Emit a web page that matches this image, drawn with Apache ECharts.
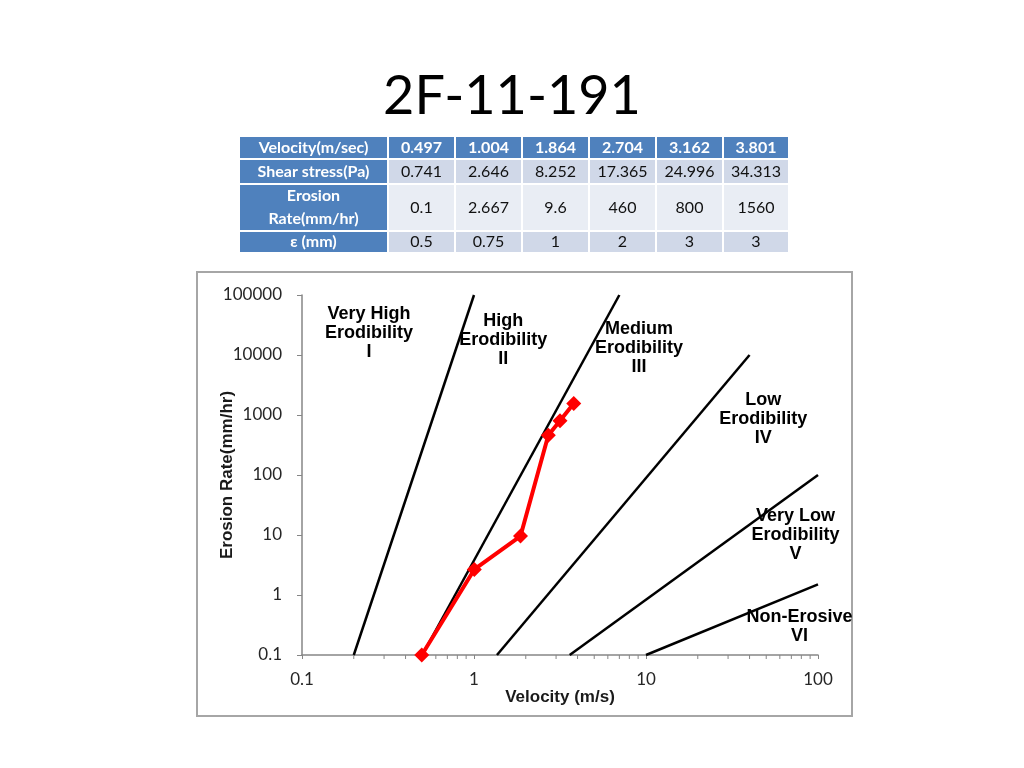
<!DOCTYPE html>
<html>
<head>
<meta charset="utf-8">
<title>2F-11-191</title>
<script src="https://cdn.jsdelivr.net/npm/echarts@6/dist/echarts.min.js"></script>
<style>
	html, body { margin: 0; padding: 0; background: #fff; }
	#main { width: 1024px; height: 768px; }
</style>
</head>
<body>
<div id="main"></div>
<script>
// table data
var rowHeads = [ 'Velocity(m/sec)', 'Shear stress(Pa)', 'Erosion\nRate(mm/hr)', 'ε (mm)' ];
var velocity = [ 0.497, 1.004, 1.864, 2.704, 3.162, 3.801 ];
var shearStress = [ 0.741, 2.646, 8.252, 17.365, 24.996, 34.313 ];
var erosionRate = [ 0.1, 2.667, 9.6, 460, 800, 1560 ];
var epsilon = [ 0.5, 0.75, 1, 2, 3, 3 ];

// erodibility zone boundaries (velocity, erosion rate)
var boundaryI = [ [ 0.2, 0.1 ], [ 1, 100000 ] ];
var boundaryII = [ [ 0.5, 0.1 ], [ 7, 100000 ] ];
var boundaryIII = [ [ 1.36, 0.1 ], [ 40, 10000 ] ];
var boundaryIV = [ [ 3.6, 0.1 ], [ 100, 100 ] ];
var boundaryV = [ [ 10, 0.1 ], [ 100, 1.5 ] ];

// zone names and where they sit (velocity, erosion rate)
var zoneNames = [ 'Very High\nErodibility\nI', 'High\nErodibility\nII',
		'Medium\nErodibility\nIII', 'Low\nErodibility\nIV',
		'Very Low\nErodibility\nV', 'Non-Erosive\nVI' ];
var zonePos = [ [ 0.245, 23000 ], [ 1.48, 17800 ], [ 9.1, 13100 ],
		[ 48, 850 ], [ 74, 10 ], [ 78, 0.3 ] ];

// axis tick labels
var xTickLabels = [ '0.1', '1', '10', '100' ];
var yTickLabels = [ '0.1', '1', '10', '100', '1000', '10000', '100000' ];
var xMinorTicks = [ 0.2, 0.3, 0.4, 0.5, 0.6, 0.7, 0.8, 0.9, 2, 3, 4, 5, 6, 7,
		8, 9, 20, 30, 40, 50, 60, 70, 80, 90 ];

var myChart = echarts.init(document.getElementById('main'));

// build the table as graphic elements
var colX = [ 240, 389, 456, 523, 590, 657, 724, 790 ];
var rowY = [ 137, 160, 185, 232, 254 ];
var tableRows = [ velocity, shearStress, erosionRate, epsilon ];
var cellFill = [ '#4F81BD', '#D0D8E8', '#E9EDF4', '#D0D8E8' ];
var tableEls = [];
for (var r = 0; r < rowHeads.length; r++) {
	for (var c = 0; c < 7; c++) {
		var x0 = colX[c], x1 = colX[c + 1] - 2;
		var y0 = rowY[r], y1 = rowY[r + 1] - 2;
		var head = (c == 0 || r == 0);
		tableEls.push({
			type : 'rect',
			shape : { x : x0, y : y0, width : x1 - x0, height : y1 - y0 },
			style : { fill : head ? '#4F81BD' : cellFill[r] }
		});
		tableEls.push({
			type : 'text',
			x : (x0 + x1) / 2,
			y : (y0 + y1) / 2,
			style : {
				text : c == 0 ? rowHeads[r] : String(tableRows[r][c - 1]),
				fill : head ? '#fff' : '#111',
				font : (head ? 'bold ' : '') + '16px Lato',
				lineHeight : 23,
				align : 'center',
				verticalAlign : 'middle'
			}
		});
	}
}

function boundary(data) {
	return {
		type : 'line',
		data : data,
		symbol : 'none',
		lineStyle : { color : '#000', width : 2.5 },
		z : 2
	};
}

var labelFont = {
	fontFamily : 'Liberation Sans',
	fontWeight : 'bold',
	fontSize : 17,
	color : '#1a1a1a'
};

var measured = [];
for (var i = 0; i < velocity.length; i++) {
	measured.push([ velocity[i], erosionRate[i] ]);
}

var option = {
	animation : false,
	backgroundColor : '#fff',
	graphic : [ {
		type : 'text',
		x : 512,
		y : 97,
		style : {
			text : '2F-11-191',
			font : '54px Lato',
			fill : '#000',
			align : 'center',
			verticalAlign : 'middle'
		}
	}, {
		type : 'group',
		children : tableEls
	}, {
		type : 'rect',
		shape : { x : 197, y : 272, width : 655, height : 444 },
		style : { fill : 'none', stroke : '#A6A6A6', lineWidth : 2 },
		z : -1
	} ],
	grid : { left : 302, right : 206, top : 295, bottom : 113 },
	xAxis : {
		type : 'log',
		logBase : 10,
		min : 0.1,
		max : 100,
		name : 'Velocity (m/s)',
		nameLocation : 'middle',
		nameGap : 34,
		nameMoveOverlap : false,
		nameTextStyle : labelFont,
		axisLine : { show : true, onZero : false, lineStyle : { color : '#868686', width : 1.5 } },
		axisTick : { show : true, length : 4, lineStyle : { color : '#868686' } },
		axisLabel : {
			margin : 16,
			fontFamily : 'Lato',
			fontSize : 17,
			color : '#262626',
			formatter : function(v) {
				return xTickLabels[Math.round(Math.log10(v)) + 1];
			}
		},
		splitLine : { show : false }
	},
	yAxis : {
		type : 'log',
		logBase : 10,
		min : 0.1,
		max : 100000,
		name : 'Erosion Rate(mm/hr)',
		nameLocation : 'middle',
		nameGap : 66,
		nameMoveOverlap : false,
		nameTextStyle : labelFont,
		axisLine : { show : true, onZero : false, lineStyle : { color : '#868686', width : 1.5 } },
		axisTick : { show : true, length : 5, lineStyle : { color : '#868686' } },
		axisLabel : {
			margin : 20,
			fontFamily : 'Lato',
			fontSize : 17,
			color : '#262626',
			formatter : function(v) {
				return yTickLabels[Math.round(Math.log10(v)) + 1];
			}
		},
		splitLine : { show : false }
	},
	series : [
			boundary(boundaryI),
			boundary(boundaryII),
			boundary(boundaryIII),
			boundary(boundaryIV),
			boundary(boundaryV),
			{
				// minor ticks of the log x axis
				type : 'custom',
				data : xMinorTicks,
				clip : false,
				renderItem : function(params, api) {
					var p = api.coord([ api.value(0), 0.1 ]);
					return {
						type : 'line',
						shape : { x1 : p[0], y1 : p[1], x2 : p[0], y2 : p[1] + 4 },
						style : { stroke : '#868686', lineWidth : 1 }
					};
				},
				encode : { x : 0 },
				z : 1
			},
			{
				// zone names
				type : 'custom',
				data : zonePos,
				clip : false,
				renderItem : function(params, api) {
					var p = api.coord([ api.value(0), api.value(1) ]);
					return {
						type : 'text',
						x : p[0],
						y : p[1],
						style : {
							text : zoneNames[params.dataIndex],
							font : 'bold 18px "Liberation Sans"',
							lineHeight : 19,
							fill : '#000',
							align : 'center',
							verticalAlign : 'middle'
						}
					};
				},
				encode : { x : 0, y : 1 },
				z : 3
			},
			{
				type : 'line',
				data : measured,
				symbol : 'diamond',
				symbolSize : 15,
				lineStyle : { color : '#FF0000', width : 4 },
				itemStyle : { color : '#FF0000' },
				clip : false,
				z : 5
			} ]
};
myChart.setOption(option);
</script>
</body>
</html>
